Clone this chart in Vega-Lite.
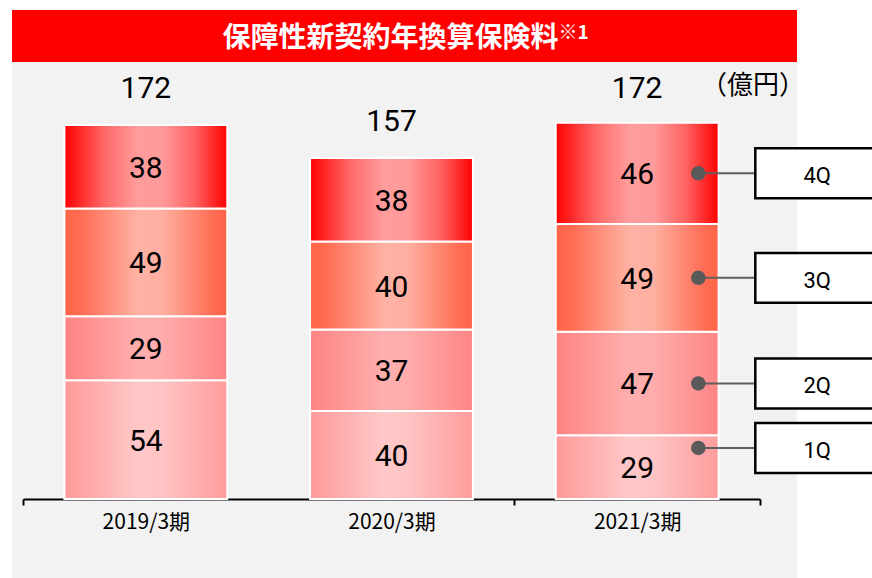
{
  "$schema": "https://vega.github.io/schema/vega-lite/v6.json",
  "padding": {"left": 12, "top": 10, "right": 0, "bottom": 0},
  "spacing": 0,
  "bounds": "flush",
  "config": {
    "view": {"stroke": null},
    "font": "Roboto",
    "axisX": {
      "title": null,
      "domainColor": "#000000",
      "domainWidth": 2,
      "tickColor": "#000000",
      "tickWidth": 2,
      "tickSize": 6,
      "tickBand": "extent",
      "labelFont": "Noto Sans CJK JP",
      "labelFontSize": 21,
      "labelColor": "#000000",
      "labelPadding": 6,
      "labelAngle": 0,
      "offset": -79,
      "grid": false
    }
  },
  "vconcat": [
    {
      "width": 785,
      "height": 52,
      "view": {"fill": "#ff0000", "stroke": null},
      "data": {"values": [{"title": "保障性新契約年換算保険料", "note": "※1"}]},
      "layer": [
        {
          "mark": {"type": "text", "color": "#ffffff", "font": "Noto Sans CJK JP", "fontWeight": "bold", "fontSize": 28, "baseline": "middle", "dx": -14, "dy": 3},
          "encoding": {"text": {"field": "title"}}
        },
        {
          "mark": {"type": "text", "color": "#ffffff", "font": "Noto Sans CJK JP", "fontWeight": "bold", "fontSize": 19, "align": "left", "baseline": "middle", "dx": 154, "dy": -3},
          "encoding": {"text": {"field": "note"}}
        }
      ]
    },
    {
      "width": 785,
      "height": 516,
      "view": {"fill": "#f2f2f2", "stroke": null},
      "title": {"text": "（億円）", "orient": "top", "anchor": "end", "frame": "group", "offset": -34, "dy": 29, "baseline": "bottom", "font": "Noto Sans CJK JP", "fontSize": 26, "fontWeight": "normal", "color": "#000000", "dx": 8},
      "data": {
        "values": [
          {"period": "2019/3期", "quarter": "1Q", "value": 54},
          {"period": "2019/3期", "quarter": "2Q", "value": 29},
          {"period": "2019/3期", "quarter": "3Q", "value": 49},
          {"period": "2019/3期", "quarter": "4Q", "value": 38},
          {"period": "2020/3期", "quarter": "1Q", "value": 40},
          {"period": "2020/3期", "quarter": "2Q", "value": 37},
          {"period": "2020/3期", "quarter": "3Q", "value": 40},
          {"period": "2020/3期", "quarter": "4Q", "value": 38},
          {"period": "2021/3期", "quarter": "1Q", "value": 29},
          {"period": "2021/3期", "quarter": "2Q", "value": 47},
          {"period": "2021/3期", "quarter": "3Q", "value": 49},
          {"period": "2021/3期", "quarter": "4Q", "value": 46}
        ]
      },
      "encoding": {
        "x": {"field": "period", "type": "nominal", "scale": {"range": [11, 748], "paddingInner": 0, "paddingOuter": 0},
          "axis": {"tickOpacity": {"condition": {"test": "datum.value === '2019/3期'", "value": 0}, "value": 1}}}
      },
      "layer": [
        {
          "transform": [
            {"stack": "value", "groupby": ["period"], "sort": [{"field": "quarter", "order": "ascending"}], "as": ["y0", "y1"]},
            {"filter": {"field": "quarter", "equal": "1Q"}}
          ],
          "mark": {"type": "bar", "width": {"band": 0.663}, "stroke": "#ffffff", "strokeWidth": 2,
            "fill": {"gradient": "linear", "x1": 0, "x2": 1, "y1": 0, "y2": 0, "stops": [
              {"offset": 0, "color": "#ff9999"}, {"offset": 0.45, "color": "#ffc8c8"}, {"offset": 0.6, "color": "#ffc4c4"}, {"offset": 1, "color": "#ff9c9c"}]}},
          "encoding": {
            "y": {"field": "y1", "type": "quantitative", "scale": {"domain": [0, 198.6], "range": [437, 0], "nice": false, "zero": true}, "axis": null},
            "y2": {"field": "y0"}
          }
        },
        {
          "transform": [
            {"stack": "value", "groupby": ["period"], "sort": [{"field": "quarter", "order": "ascending"}], "as": ["y0", "y1"]},
            {"filter": {"field": "quarter", "equal": "2Q"}}
          ],
          "mark": {"type": "bar", "width": {"band": 0.663}, "stroke": "#ffffff", "strokeWidth": 2,
            "fill": {"gradient": "linear", "x1": 0, "x2": 1, "y1": 0, "y2": 0, "stops": [
              {"offset": 0, "color": "#ff8282"}, {"offset": 0.45, "color": "#ffaeae"}, {"offset": 0.6, "color": "#ffacac"}, {"offset": 1, "color": "#ff8585"}]}},
          "encoding": {
            "y": {"field": "y1", "type": "quantitative", "scale": {"domain": [0, 198.6], "range": [437, 0], "nice": false, "zero": true}, "axis": null},
            "y2": {"field": "y0"}
          }
        },
        {
          "transform": [
            {"stack": "value", "groupby": ["period"], "sort": [{"field": "quarter", "order": "ascending"}], "as": ["y0", "y1"]},
            {"filter": {"field": "quarter", "equal": "3Q"}}
          ],
          "mark": {"type": "bar", "width": {"band": 0.663}, "stroke": "#ffffff", "strokeWidth": 2,
            "fill": {"gradient": "linear", "x1": 0, "x2": 1, "y1": 0, "y2": 0, "stops": [
              {"offset": 0, "color": "#ff6448"}, {"offset": 0.1, "color": "#ff6c52"}, {"offset": 0.45, "color": "#ffb2a4"}, {"offset": 0.6, "color": "#ffafa1"}, {"offset": 0.92, "color": "#ff6c52"}, {"offset": 1, "color": "#ff6448"}]}},
          "encoding": {
            "y": {"field": "y1", "type": "quantitative", "scale": {"domain": [0, 198.6], "range": [437, 0], "nice": false, "zero": true}, "axis": null},
            "y2": {"field": "y0"}
          }
        },
        {
          "transform": [
            {"stack": "value", "groupby": ["period"], "sort": [{"field": "quarter", "order": "ascending"}], "as": ["y0", "y1"]},
            {"filter": {"field": "quarter", "equal": "4Q"}}
          ],
          "mark": {"type": "bar", "width": {"band": 0.663}, "stroke": "#ffffff", "strokeWidth": 2,
            "fill": {"gradient": "linear", "x1": 0, "x2": 1, "y1": 0, "y2": 0, "stops": [
              {"offset": 0, "color": "#ff0000"}, {"offset": 0.25, "color": "#ff6a6a"}, {"offset": 0.45, "color": "#ff9c9c"}, {"offset": 0.6, "color": "#ff9a9a"}, {"offset": 0.8, "color": "#ff6262"}, {"offset": 1, "color": "#ff0000"}]}},
          "encoding": {
            "y": {"field": "y1", "type": "quantitative", "scale": {"domain": [0, 198.6], "range": [437, 0], "nice": false, "zero": true}, "axis": null},
            "y2": {"field": "y0"}
          }
        },
        {
          "mark": {"type": "text", "font": "Roboto", "fontSize": 30, "color": "#000000", "baseline": "middle", "dy": 2},
          "encoding": {
            "y": {"field": "value", "type": "quantitative", "stack": "zero", "bandPosition": 0.5, "scale": {"domain": [0, 198.6], "range": [437, 0], "nice": false, "zero": true}, "axis": null},
            "detail": {"field": "quarter", "type": "nominal"},
            "order": {"field": "quarter", "type": "ordinal"},
            "text": {"field": "value", "type": "quantitative"}
          }
        },
        {
          "data": {"values": [
            {"period": "2019/3期", "total": 172},
            {"period": "2020/3期", "total": 157},
            {"period": "2021/3期", "total": 172}
          ]},
          "mark": {"type": "text", "font": "Roboto", "fontSize": 30, "color": "#000000", "baseline": "middle", "dy": -32},
          "encoding": {
            "y": {"field": "total", "type": "quantitative", "scale": {"domain": [0, 198.6], "range": [437, 0], "nice": false, "zero": true}, "axis": null},
            "text": {"field": "total", "type": "quantitative"}
          }
        },
        {
          "transform": [{"filter": {"field": "period", "equal": "2021/3期"}}],
          "encoding": {
            "y": {"field": "value", "type": "quantitative", "stack": "zero", "bandPosition": 0.5, "scale": {"domain": [0, 198.6], "range": [437, 0], "nice": false, "zero": true}, "axis": null},
            "detail": {"field": "quarter", "type": "nominal"},
            "order": {"field": "quarter", "type": "ordinal"},
            "opacity": {"condition": {"test": "datum.quarter === '1Q'", "value": 0}, "value": 1}
          },
          "layer": [
            {
              "mark": {"type": "point", "shape": "M-1,0L1,0", "size": 3249, "filled": false, "stroke": "#5f5f5f", "strokeWidth": 2},
              "encoding": {"x": {"field": "period", "type": "nominal", "bandPosition": 0.865, "scale": {"range": [11, 748], "paddingInner": 0, "paddingOuter": 0}}}
            },
            {
              "mark": {"type": "circle", "size": 210, "color": "#595959"},
              "encoding": {"x": {"field": "period", "type": "nominal", "bandPosition": 0.749, "scale": {"range": [11, 748], "paddingInner": 0, "paddingOuter": 0}}}
            },
            {
              "mark": {"type": "point", "shape": "M1,-0.427L-1,-0.427L-1,0.427L1,0.427", "size": 13689, "filled": true, "fill": "#ffffff", "stroke": "#000000", "strokeWidth": 2.5},
              "encoding": {"x": {"field": "period", "type": "nominal", "bandPosition": 1.219, "scale": {"range": [11, 748], "paddingInner": 0, "paddingOuter": 0}}}
            },
            {
              "mark": {"type": "text", "font": "Roboto", "fontSize": 22, "color": "#000000", "baseline": "middle", "dy": 3},
              "encoding": {
                "x": {"field": "period", "type": "nominal", "bandPosition": 1.233, "scale": {"range": [11, 748], "paddingInner": 0, "paddingOuter": 0}},
                "text": {"field": "quarter", "type": "nominal"}
              }
            }
          ]
        },
        {
          "transform": [{"filter": {"field": "period", "equal": "2021/3期"}}, {"filter": {"field": "quarter", "equal": "1Q"}}],
          "encoding": {
            "y": {"field": "value", "type": "quantitative", "stack": "zero", "bandPosition": 0.8, "scale": {"domain": [0, 198.6], "range": [437, 0], "nice": false, "zero": true}, "axis": null},
            "detail": {"field": "quarter", "type": "nominal"},
            "order": {"field": "quarter", "type": "ordinal"},
            "opacity": {"value": 1}
          },
          "layer": [
            {
              "mark": {"type": "point", "shape": "M-1,0L1,0", "size": 3249, "filled": false, "stroke": "#5f5f5f", "strokeWidth": 2},
              "encoding": {"x": {"field": "period", "type": "nominal", "bandPosition": 0.865, "scale": {"range": [11, 748], "paddingInner": 0, "paddingOuter": 0}}}
            },
            {
              "mark": {"type": "circle", "size": 210, "color": "#595959"},
              "encoding": {"x": {"field": "period", "type": "nominal", "bandPosition": 0.749, "scale": {"range": [11, 748], "paddingInner": 0, "paddingOuter": 0}}}
            },
            {
              "mark": {"type": "point", "shape": "M1,-0.427L-1,-0.427L-1,0.427L1,0.427", "size": 13689, "filled": true, "fill": "#ffffff", "stroke": "#000000", "strokeWidth": 2.5},
              "encoding": {"x": {"field": "period", "type": "nominal", "bandPosition": 1.219, "scale": {"range": [11, 748], "paddingInner": 0, "paddingOuter": 0}}}
            },
            {
              "mark": {"type": "text", "font": "Roboto", "fontSize": 22, "color": "#000000", "baseline": "middle", "dy": 3},
              "encoding": {
                "x": {"field": "period", "type": "nominal", "bandPosition": 1.233, "scale": {"range": [11, 748], "paddingInner": 0, "paddingOuter": 0}},
                "text": {"field": "quarter", "type": "nominal"}
              }
            }
          ]
        }
      ]
    }
  ]
}
